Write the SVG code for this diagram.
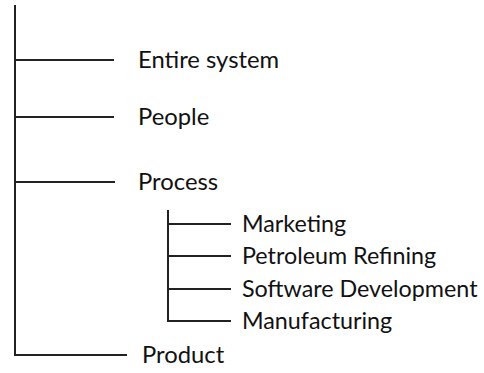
<svg xmlns="http://www.w3.org/2000/svg" width="484" height="373" viewBox="0 0 484 373">
<style>
.t{font-family:Lato,"Liberation Sans",sans-serif;font-size:23.8px;fill:#111}
.s{font-size:23.3px}
.c{stroke:#222;stroke-width:2;fill:none}
</style>
<rect width="484" height="373" fill="#fff"/>
<g id="connectors">
<path class="c" d="M15 5V355H127"/>
<path class="c" d="M15 60H114M15 117H114M15 182H115"/>
<path class="c" d="M168 210V321H231M168 224H231M168 256H231M168 289H231"/>
</g>
<g id="n1"><text class="t" x="138" y="68">Entire system</text></g>
<g id="n2"><text class="t" x="138" y="125">People</text></g>
<g id="n3"><text class="t" x="138" y="190">Process</text></g>
<g id="n4"><text class="t s" x="242" y="232">Marketing</text></g>
<g id="n5"><text class="t s" x="242" y="264">Petroleum Refining</text></g>
<g id="n6"><text class="t s" x="242" y="297">Software Development</text></g>
<g id="n7"><text class="t s" x="242" y="329">Manufacturing</text></g>
<g id="n8"><text class="t" x="142" y="363">Product</text></g>
</svg>
